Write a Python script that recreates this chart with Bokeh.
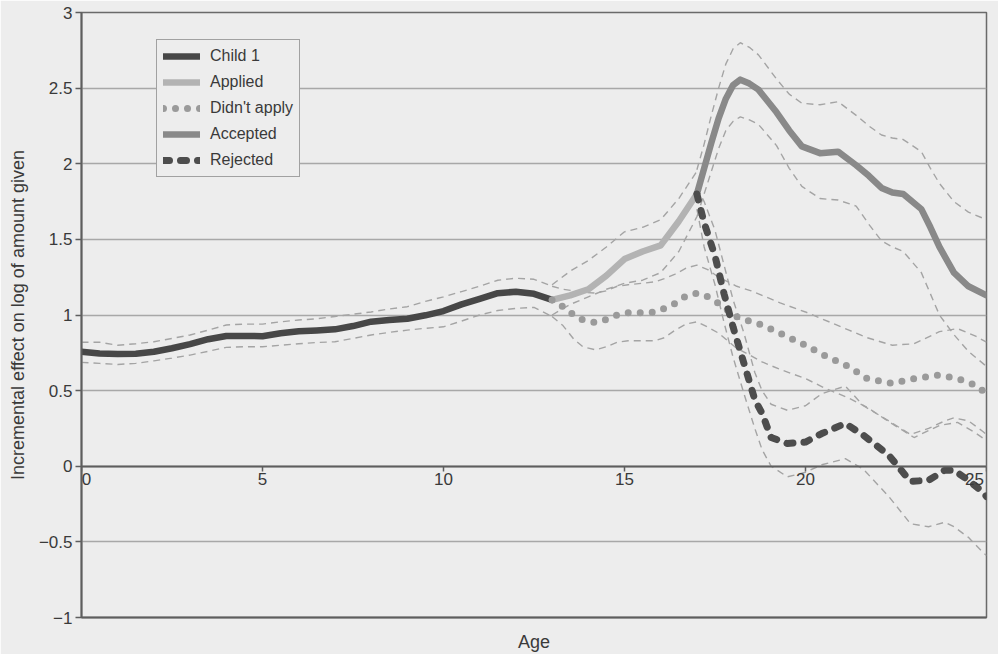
from bokeh.plotting import figure
from bokeh.models import FixedTicker, LinearAxis, Legend, LegendItem, Label
from bokeh.embed import file_html
from bokeh.resources import INLINE

# ---------------- data ----------------
x_ticks = [0, 5, 10, 15, 20, 25]
x_tick_labels = ["0", "5", "10", "15", "20", "25"]
y_ticks = [-1, -0.5, 0, 0.5, 1, 1.5, 2, 2.5, 3]
y_tick_labels = ["\u22121", "\u22120.5", "0", "0.5", "1", "1.5", "2", "2.5", "3"]

child_age = [0, 0.5, 1, 1.5, 2, 2.5, 3, 3.5, 4, 4.5, 5, 5.5, 6, 6.5, 7, 7.5, 8, 8.5, 9,
             9.5, 10, 10.5, 11, 11.5, 12, 12.5, 13]
child_mean = [0.757, 0.746, 0.742, 0.744, 0.757, 0.78, 0.808, 0.84, 0.861, 0.861, 0.860,
              0.879, 0.892, 0.898, 0.905, 0.927, 0.956, 0.967, 0.975, 0.998, 1.026, 1.07,
              1.106, 1.144, 1.154, 1.14, 1.10]
child_hi = [0.82, 0.82, 0.80, 0.81, 0.823, 0.845, 0.868, 0.90, 0.934, 0.94, 0.94, 0.955,
            0.967, 0.975, 0.99, 1.005, 1.02, 1.04, 1.055, 1.09, 1.12, 1.155, 1.19, 1.23,
            1.243, 1.236, 1.19]
child_lo = [0.687, 0.68, 0.673, 0.68, 0.697, 0.715, 0.735, 0.76, 0.786, 0.79, 0.79, 0.80,
            0.81, 0.818, 0.823, 0.845, 0.868, 0.885, 0.90, 0.912, 0.922, 0.96, 1.0, 1.03,
            1.044, 1.05, 0.99]

applied_age = [13, 13.5, 14, 14.5, 15, 15.5, 16, 16.5, 17]
applied_mean = [1.10, 1.13, 1.17, 1.26, 1.37, 1.42, 1.46, 1.62, 1.80]
applied_hi = [1.20, 1.29, 1.36, 1.45, 1.55, 1.58, 1.63, 1.77, 1.95]
applied_lo = [1.0, 1.07, 1.12, 1.17, 1.21, 1.23, 1.28, 1.42, 1.65]

noapply_age = [13, 13.3, 13.6, 13.85, 14.2, 14.5, 14.8, 15.1, 15.5, 15.85, 16.1, 16.4,
               16.7, 17, 17.3, 17.6, 18.1, 18.5, 18.8, 19.3, 20, 20.5, 21.2, 21.7, 22.4,
               23, 23.7, 24.2, 24.7, 25]
noapply_mean = [1.10, 1.055, 1.0, 0.967, 0.95, 0.97, 1.0, 1.015, 1.015, 1.02, 1.044,
                1.077, 1.126, 1.144, 1.121, 1.077, 0.989, 0.956, 0.934, 0.879, 0.80,
                0.735, 0.658, 0.58, 0.548, 0.58, 0.603, 0.58, 0.536, 0.48]
noapply_hi = [1.19, 1.17, 1.16, 1.15, 1.145, 1.16, 1.19, 1.20, 1.21, 1.22, 1.24, 1.27,
              1.31, 1.33, 1.30, 1.25, 1.19, 1.16, 1.13, 1.08, 1.02, 0.97, 0.90, 0.85,
              0.80, 0.81, 0.89, 0.91, 0.86, 0.82]
noapply_lo = [0.99, 0.93, 0.84, 0.79, 0.77, 0.79, 0.82, 0.83, 0.83, 0.83, 0.85, 0.90,
              0.94, 0.955, 0.92, 0.88, 0.78, 0.73, 0.69, 0.64, 0.58, 0.52, 0.45, 0.39,
              0.28, 0.19, 0.27, 0.29, 0.22, 0.17]

accepted_age = [17, 17.2, 17.4, 17.6, 17.8, 18, 18.2, 18.45, 18.7, 19.2, 19.55, 19.9,
                20.4, 20.9, 21.4, 21.75, 22.1, 22.4, 22.7, 23.2, 23.45, 23.7, 24.1, 24.5, 25]
accepted_mean = [1.80, 1.97, 2.14, 2.30, 2.43, 2.52, 2.556, 2.53, 2.49, 2.34, 2.22, 2.115,
                 2.07, 2.08, 1.99, 1.92, 1.84, 1.81, 1.80, 1.70, 1.58, 1.45, 1.28, 1.19, 1.13]
accepted_hi = [1.96, 2.13, 2.32, 2.50, 2.66, 2.76, 2.80, 2.77, 2.72, 2.56, 2.46, 2.40,
               2.39, 2.41, 2.32, 2.25, 2.19, 2.17, 2.16, 2.08, 1.97, 1.87, 1.75, 1.68, 1.63]
accepted_lo = [1.65, 1.80, 1.95, 2.10, 2.22, 2.28, 2.31, 2.29, 2.26, 2.12, 1.97, 1.85,
               1.77, 1.76, 1.72, 1.60, 1.49, 1.45, 1.42, 1.28, 1.14, 1.00, 0.87, 0.76, 0.66]

rejected_age = [17, 17.2, 17.5, 17.75, 18, 18.3, 18.6, 18.8, 19.05, 19.5, 20, 20.45,
                21.1, 21.6, 22.3, 22.9, 23.4, 23.85, 24.1, 24.5, 24.9, 25]
rejected_mean = [1.80, 1.61, 1.39, 1.14, 0.92, 0.68, 0.44, 0.35, 0.19, 0.15, 0.16, 0.216,
                 0.283, 0.205, 0.073, -0.10, -0.093, -0.026, -0.026, -0.093, -0.17, -0.20]
rejected_hi = [1.84, 1.75, 1.56, 1.33, 1.10, 0.88, 0.62, 0.50, 0.41, 0.37, 0.40, 0.48,
               0.53, 0.40, 0.30, 0.21, 0.25, 0.30, 0.32, 0.30, 0.23, 0.21]
rejected_lo = [1.70, 1.45, 1.20, 0.95, 0.72, 0.48, 0.25, 0.11, 0.0, -0.07, -0.04, 0.01,
               0.05, -0.02, -0.20, -0.38, -0.40, -0.37, -0.40, -0.47, -0.57, -0.59]

# ---------------- styling ----------------
BG = "#ededed"
FONT = "Liberation Sans"
TXT = "#3a3a3a"
CI = "#a4a4a4"

p = figure(width=998, height=654, x_range=(0, 25), y_range=(-1, 3),
           output_backend="svg", toolbar_location=None,
           min_border_left=81, min_border_right=12, min_border_top=12,
           min_border_bottom=37)
p.background_fill_color = BG
p.border_fill_color = BG
p.outline_line_color = "#6a6a6a"
p.outline_line_width = 1.5

p.xgrid.visible = False
p.ygrid.ticker = FixedTicker(ticks=y_ticks)
p.ygrid.grid_line_color = "#a8a8a8"
p.ygrid.grid_line_width = 1.5

# x axis line and ticks across y = 0 (labels drawn as annotations below)
xa = p.xaxis[0]
xa.fixed_location = 0
xa.ticker = FixedTicker(ticks=x_ticks)
xa.major_label_text_color = None
xa.major_label_text_font_size = "1px"
xa.major_tick_out = 5
xa.major_tick_in = 0
xa.minor_tick_line_color = None
xa.axis_line_color = "#5e5e5e"
xa.axis_line_width = 2
xa.major_tick_line_color = "#5e5e5e"
xa.major_tick_line_width = 1.5

# edge labels nudged inward so they are not cut by the frame clip
for tx, tl in zip(x_ticks, x_tick_labels):
    dx = 5 if tx == x_ticks[0] else (-12 if tx == x_ticks[-1] else 0)
    p.add_layout(Label(x=tx, y=0, text=tl, x_units="data", y_units="data",
                       text_align="center", text_baseline="top", y_offset=-7,
                       x_offset=dx,
                       text_font=FONT, text_font_size="17px", text_color=TXT))

age_axis = LinearAxis(axis_label="Age")
age_axis.major_tick_line_color = None
age_axis.minor_tick_line_color = None
age_axis.major_label_text_font_size = "0px"
age_axis.major_label_text_alpha = 0
age_axis.axis_line_color = "#5e5e5e"
age_axis.axis_line_width = 2
age_axis.axis_label_text_font = FONT
age_axis.axis_label_text_font_size = "18px"
age_axis.axis_label_text_font_style = "normal"
age_axis.axis_label_text_color = TXT
age_axis.axis_label_standoff = 8
p.add_layout(age_axis, "below")

ya = p.yaxis[0]
ya.ticker = FixedTicker(ticks=y_ticks)
ya.major_label_overrides = dict(zip(y_ticks, y_tick_labels))
ya.major_tick_out = 6
ya.major_tick_in = 0
ya.minor_tick_line_color = None
ya.axis_line_color = "#5e5e5e"
ya.axis_line_width = 2
ya.major_tick_line_color = "#5e5e5e"
ya.major_tick_line_width = 1.5
ya.major_label_text_font = FONT
ya.major_label_text_font_size = "17px"
ya.major_label_text_color = TXT
ya.major_label_standoff = 3
ya.axis_label = "Incremental effect on log of amount given"
ya.axis_label_text_font = FONT
ya.axis_label_text_font_size = "18px"
ya.axis_label_text_font_style = "normal"
ya.axis_label_text_color = TXT
ya.axis_label_standoff = 8

# confidence bands (thin dashed)
for ages, lo, hi in [(child_age, child_lo, child_hi),
                     (applied_age, applied_lo, applied_hi),
                     (noapply_age, noapply_lo, noapply_hi),
                     (accepted_age, accepted_lo, accepted_hi),
                     (rejected_age, rejected_lo, rejected_hi)]:
    p.line(ages, lo, line_color=CI, line_width=1.4, line_dash="7 5")
    p.line(ages, hi, line_color=CI, line_width=1.4, line_dash="7 5")

r_child = p.line(child_age, child_mean, line_color="#474747", line_width=6.5,
                 line_cap="round", line_join="round")
r_applied = p.line(applied_age, applied_mean, line_color="#b3b3b3", line_width=6.5,
                   line_cap="round", line_join="round")
r_noapply = p.line(noapply_age, noapply_mean, line_color="#9a9a9a", line_width=7,
                   line_dash="0 12", line_cap="round", line_join="round")
r_accepted = p.line(accepted_age, accepted_mean, line_color="#898989", line_width=6.5,
                    line_cap="round", line_join="round")
r_rejected = p.line(rejected_age, rejected_mean, line_color="#4d4d4d", line_width=7,
                    line_dash="6 11", line_cap="round", line_join="round")

legend = Legend(items=[
    LegendItem(label="Child 1", renderers=[r_child]),
    LegendItem(label="Applied", renderers=[r_applied]),
    LegendItem(label="Didn't apply", renderers=[r_noapply]),
    LegendItem(label="Accepted", renderers=[r_accepted]),
    LegendItem(label="Rejected", renderers=[r_rejected]),
], location=(75, 440))
legend.label_text_font = FONT
legend.label_text_font_size = "16px"
legend.label_text_color = TXT
legend.glyph_width = 37
legend.glyph_height = 20
legend.label_height = 20
legend.label_standoff = 10
legend.spacing = 6
legend.padding = 6
legend.margin = 0
legend.border_line_color = "#555555"
legend.border_line_width = 1.5
legend.background_fill_color = BG
legend.background_fill_alpha = 1
p.add_layout(legend)

html = file_html(p, INLINE)
html = html.replace("<body>", '<body style="background:%s">' % BG, 1)
open("out.html", "w").write(html)
